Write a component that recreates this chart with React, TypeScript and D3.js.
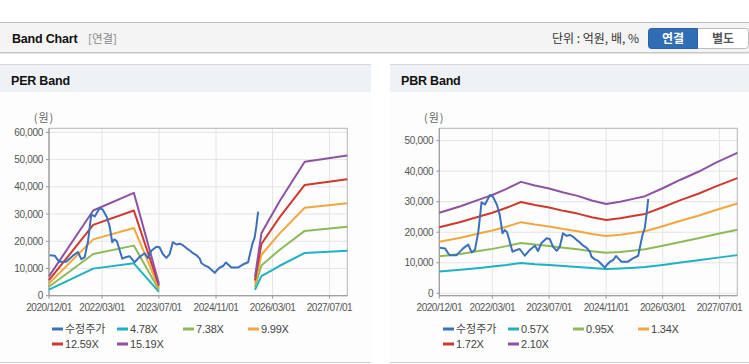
import React from "react";
import * as d3 from "d3";

// ---------- data ----------
const xTickLabels = ["2020/12/01", "2022/03/01", "2023/07/01", "2024/11/01", "2026/03/01", "2027/07/01"];
const xDomainDates = ["2020-12-01", "2027-12-01"];
const perYTicks = [0, 10000, 20000, 30000, 40000, 50000, 60000];
const pbrYTicks = [0, 10000, 20000, 30000, 40000, 50000];

const priceDates = [
  "2020-12-07", "2021-01-19", "2021-02-15", "2021-03-01", "2021-04-28", "2021-06-24", "2021-08-06",
  "2021-09-04", "2021-10-03", "2021-11-01", "2021-11-28", "2021-12-28", "2022-02-09", "2022-03-07",
  "2022-04-10", "2022-05-04", "2022-05-27", "2022-06-15", "2022-07-06", "2022-07-28", "2022-08-21",
  "2022-09-24", "2022-10-22", "2022-12-04", "2023-01-16", "2023-03-01", "2023-03-28", "2023-04-25",
  "2023-06-09", "2023-07-06", "2023-08-03", "2023-09-03", "2023-10-01", "2023-10-28", "2023-11-28",
  "2023-12-25", "2024-01-22", "2024-02-21", "2024-03-19", "2024-04-18", "2024-05-16", "2024-06-15",
  "2024-06-28", "2024-07-28", "2024-08-25", "2024-09-22", "2024-10-22", "2024-11-06", "2024-12-04",
  "2025-01-01", "2025-01-25", "2025-02-13", "2025-03-13", "2025-05-07", "2025-06-19", "2025-08-03",
  "2025-08-16", "2025-09-09", "2025-09-28", "2025-10-13", "2025-10-28",
];
const priceValues = [
  14900, 14700, 13100, 12500, 12500, 14700, 16000,
  13400, 14200, 20200, 29800, 29100, 32200, 31600,
  28900, 25600, 19650, 20700, 20000, 16900, 13600,
  14200, 14500, 12300, 14200, 15600, 13850, 16400,
  18000, 17800, 15300, 13900, 15300, 19650, 18800,
  19100, 18550, 17500, 16700, 15600, 14950, 13600,
  12000, 11100, 10600, 9500, 8400, 9250, 10350,
  10900, 12200, 11450, 10350, 10350, 11450, 12300,
  14750, 19100, 21300, 25650, 30900,
];

const perDates = [
  "2020-12-01", "2021-12-15", "2022-11-28", "2023-07-01", "2024-08-01",
  "2025-10-01", "2025-11-25", "2026-05-01", "2026-12-01", "2027-12-01",
];
const per478 = [2200, 9950, 11900, 1400, null, 2200, 7200, 11000, 15700, 16500];
const per738 = [3300, 15300, 18400, 2150, null, 3300, 11100, 16900, 23800, 25300];
const per999 = [4500, 20700, 24900, 2900, null, 4500, 15050, 22900, 32300, 33950];
const per1259 = [5700, 26000, 31300, 3650, null, 5600, 19000, 28850, 40700, 42800];
const per1519 = [7100, 31300, 37800, 4400, null, 6900, 22900, 34800, 49200, 51500];

const pbrDates = [
  "2020-12-01", "2021-06-01", "2021-12-01", "2022-03-01", "2022-07-01", "2022-11-01", "2023-03-01",
  "2023-07-01", "2023-11-01", "2024-03-01", "2024-07-01", "2024-11-01", "2025-03-01", "2025-07-01",
  "2025-10-01", "2026-03-01", "2026-08-01", "2027-01-01", "2027-06-01", "2027-12-01",
];
const pbr057 = [7150, 7700, 8400, 8750, 9250, 9900, 9550, 9300, 8950, 8650, 8300, 7950, 8150, 8400, 8600, 9300, 10100, 10800, 11600, 12500];
const pbr095 = [12100, 12900, 14000, 14550, 15450, 16500, 15950, 15500, 14900, 14400, 13800, 13300, 13550, 14000, 14400, 15550, 16800, 18000, 19350, 20800];
const pbr134 = [16850, 18200, 19800, 20550, 21800, 23300, 22500, 21900, 21050, 20350, 19450, 18800, 19150, 19800, 20300, 21950, 23750, 25400, 27300, 29400];
const pbr172 = [21600, 23350, 25400, 26400, 28000, 29900, 28900, 28100, 27000, 26100, 24900, 24000, 24600, 25400, 26000, 28200, 30500, 32600, 35000, 37700];
const pbr210 = [26400, 28500, 31000, 32200, 34200, 36500, 35300, 34300, 33000, 31900, 30400, 29250, 30000, 31000, 31800, 34400, 37200, 39800, 42800, 46000];

const perLabels = ["수정주가", "4.78X", "7.38X", "9.99X", "12.59X", "15.19X"];
const pbrLabels = ["수정주가", "0.57X", "0.95X", "1.34X", "1.72X", "2.10X"];
const colors = ["#3b70ba", "#1fb1c2", "#8cba58", "#f2a73e", "#cc3a2f", "#8e52a0"];

// ---------- helpers ----------
const parse = d3.timeParse("%Y-%m-%d");
const KR = "'Noto Sans CJK KR', 'Noto Sans', sans-serif";
const NUM = "'Liberation Sans', Arial, sans-serif";

type Pt = { d: Date; v: number | null };
const zip = (dates: string[], vals: (number | null)[]): Pt[] =>
  dates.map((s, i) => ({ d: parse(s) as Date, v: vals[i] }));

function BandChart(props: {
  left: number; right: number; top: number; bottom: number;
  yDomain: [number, number]; yTicks: number[];
  bands: Pt[][]; price: Pt[]; labels: string[];
  legendX: number[];
}) {
  const { left, right, top, bottom, yDomain, yTicks, bands, price, labels, legendX } = props;
  const x = d3.scaleTime().domain(xDomainDates.map((s) => parse(s) as Date)).range([left, right]);
  const y = d3.scaleLinear().domain(yDomain).range([bottom, top]);
  const line = d3.line<Pt>().defined((p) => p.v != null).x((p) => x(p.d)).y((p) => y(p.v as number));
  const tickDates = xTickLabels.map((s) => parse(s.replace(/\//g, "-")) as Date);
  const fmt = d3.format(",");
  return (
    <g>
      {yTicks.map((t) => (
        <line key={"gy" + t} x1={left} x2={right} y1={y(t)} y2={y(t)} stroke="#e4e4e4" strokeWidth={1} />
      ))}
      {tickDates.map((d, i) => (
        <line key={"gx" + i} x1={x(d)} x2={x(d)} y1={top} y2={bottom} stroke="#e4e4e4" strokeWidth={1} />
      ))}
      <rect x={left} y={top} width={right - left} height={bottom - top} fill="none" stroke="#b4b4b4" strokeWidth={1} />
      <line x1={left} x2={left} y1={top} y2={bottom} stroke="#999" />
      <line x1={left} x2={right} y1={bottom} y2={bottom} stroke="#999" />
      {yTicks.map((t) => (
        <g key={"ty" + t}>
          <line x1={left - 3} x2={left} y1={y(t)} y2={y(t)} stroke="#999" />
          <text x={left - 6} y={y(t)} dy="0.35em" textAnchor="end" fontFamily={NUM} fontSize={10} letterSpacing={-0.3} fill="#555">
            {fmt(t)}
          </text>
        </g>
      ))}
      {tickDates.map((d, i) => (
        <g key={"tx" + i}>
          <line x1={x(d)} x2={x(d)} y1={bottom} y2={bottom + 3} stroke="#999" />
          <text x={x(d)} y={bottom + 15} textAnchor="middle" fontFamily={NUM} fontSize={10} letterSpacing={-0.45} fill="#555">
            {xTickLabels[i]}
          </text>
        </g>
      ))}
      <text x={left - 5} y={122} textAnchor="middle" fontFamily={KR} fontSize={11} letterSpacing={1} fill="#666">(원)</text>
      {bands.map((b, i) => (
        <path key={"b" + i} d={line(b) || ""} fill="none" stroke={colors[i + 1]} strokeWidth={2} strokeLinejoin="round" />
      ))}
      <path d={line(price) || ""} fill="none" stroke={colors[0]} strokeWidth={2} strokeLinejoin="round" />
      {labels.map((lab, i) => {
        const row = i < 4 ? 0 : 1;
        const col = i < 4 ? i : i - 4;
        const lx = legendX[col];
        const ly = row === 0 ? 329 : 344;
        return (
          <g key={"lg" + i}>
            <line x1={lx} x2={lx + 11} y1={ly} y2={ly} stroke={colors[i]} strokeWidth={3} />
            <text x={lx + 13} y={ly} dy="0.36em" fontFamily={i === 0 ? KR : NUM} fontSize={11} letterSpacing={i === 0 ? 0 : -0.2} fill="#444">
              {lab}
            </text>
          </g>
        );
      })}
    </g>
  );
}

export default function App() {
  const price = zip(priceDates, priceValues);
  const perBands = [per478, per738, per999, per1259, per1519].map((v) => zip(perDates, v));
  const pbrBands = [pbr057, pbr095, pbr134, pbr172, pbr210].map((v) => zip(pbrDates, v));
  return (
    <div style={{ position: "absolute", left: 0, top: 0 }}>
      <svg width={749} height={364} style={{ display: "block" }}>
        <rect x={0} y={0} width={749} height={364} fill="#fff" />
        <rect x={0} y={22} width={749} height={31} fill="#f4f4f4" />
        <line x1={0} x2={749} y1={22.5} y2={22.5} stroke="#bdbdbd" />
        <line x1={0} x2={749} y1={52.5} y2={52.5} stroke="#c8c8c8" />
        <line x1={0} x2={749} y1={53.5} y2={53.5} stroke="#e2e2e2" />
        <text x={12} y={43} fontFamily={NUM} fontWeight="bold" fontSize={12.5} letterSpacing={-0.2} fill="#111">Band Chart</text>
        <text x={88} y={43} fontFamily={KR} fontSize={11.5} fill="#888">[연결]</text>
        <text x={552} y={43} fontFamily={KR} fontSize={12} fill="#333">단위 : 억원, 배, %</text>
        <rect x={648.5} y={28.5} width={100} height={20} rx={3} fill="#fff" stroke="#bbb" />
        <path d="M 651.5 28.5 H 697.5 V 48.5 H 651.5 Q 648.5 48.5 648.5 45.5 V 31.5 Q 648.5 28.5 651.5 28.5 Z" fill="#2f6db4" stroke="#2a62a3" />
        <text x={673} y={43} textAnchor="middle" fontFamily={KR} fontWeight="bold" fontSize={12} fill="#fff">연결</text>
        <text x={723} y={43} textAnchor="middle" fontFamily={KR} fontWeight="bold" fontSize={12} fill="#555">별도</text>

        {[{ x: 0, w: 371, title: "PER Band" }, { x: 390, w: 359, title: "PBR Band" }].map((p) => (
          <g key={p.title}>
            <rect x={p.x} y={64} width={p.w} height={298} fill="#fdfdfd" />
            <rect x={p.x} y={64} width={p.w} height={28} fill="#eef1f6" />
            <line x1={p.x} x2={p.x + p.w} y1={64.5} y2={64.5} stroke="#d8d8d8" />
            <line x1={p.x} x2={p.x + p.w} y1={362.5} y2={362.5} stroke="#cfcfcf" />
            <text x={p.x + 11} y={85} fontFamily={NUM} fontWeight="bold" fontSize={12.5} letterSpacing={-0.2} fill="#111">{p.title}</text>
          </g>
        ))}

        <BandChart
          left={49} right={347.3} top={128.3} bottom={295.7}
          yDomain={[0, 61500]} yTicks={perYTicks}
          bands={perBands} price={price} labels={perLabels}
          legendX={[52, 117, 183, 248]}
        />
        <BandChart
          left={439.3} right={737.3} top={128.3} bottom={295.7}
          yDomain={[-790, 54040]} yTicks={pbrYTicks}
          bands={pbrBands} price={price} labels={pbrLabels}
          legendX={[443, 508, 573, 638]}
        />
      </svg>
    </div>
  );
}
